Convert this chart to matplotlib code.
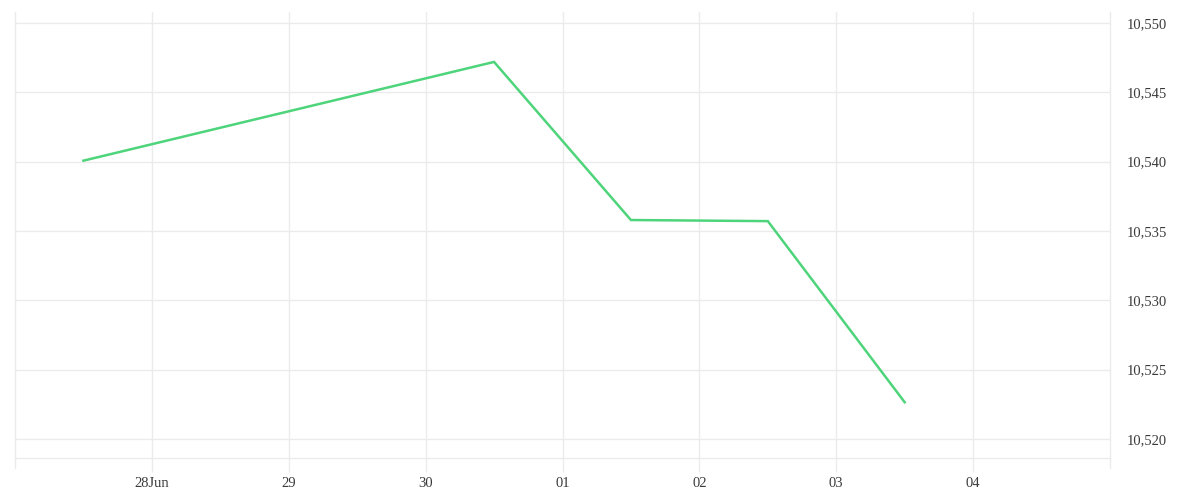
import numpy as np
import pandas as pd
import matplotlib
matplotlib.use('Agg')
import matplotlib.pyplot as plt
import matplotlib.dates as mdates
from matplotlib.ticker import FuncFormatter

# data
dates = pd.to_datetime(['2024-06-27 12:00', '2024-06-30 12:00', '2024-07-01 12:00',
                        '2024-07-02 12:00', '2024-07-03 12:00'])
values = [10540.07, 10547.19, 10535.79, 10535.71, 10522.65]

tick_dates = pd.to_datetime(['2024-06-28', '2024-06-29', '2024-06-30', '2024-07-01',
                             '2024-07-02', '2024-07-03', '2024-07-04'])
tick_labels = ['28Jun', '29', '30', '01', '02', '03', '04']
y_ticks = [10520, 10525, 10530, 10535, 10540, 10545, 10550]

grid_c = '#ebebeb'
text_c = '#3a3a3a'
plt.rcParams['font.family'] = ['Liberation Serif', 'DejaVu Serif']

fig = plt.figure(figsize=(12, 5), dpi=100)
ax = fig.add_axes([15 / 1200, 42 / 500, (1110 - 15) / 1200, (458 - 12) / 500])

ax.plot(dates, values, color='#4ed47a', lw=1.8, solid_joinstyle='miter')

ax.set_xlim(pd.Timestamp('2024-06-27'), pd.Timestamp('2024-07-05'))
ax.set_ylim(10518.63, 10550.79)

ax.set_xticks(tick_dates)
ax.set_xticklabels(tick_labels)
ax.set_yticks(y_ticks)
ax.yaxis.set_major_formatter(FuncFormatter(lambda v, p: '{:,.0f}'.format(v)))
ax.yaxis.tick_right()

ax.grid(True, color=grid_c, lw=1)
ax.set_axisbelow(True)
ax.spines['top'].set_visible(False)
for s in ['left', 'right', 'bottom']:
    ax.spines[s].set_color(grid_c)
    ax.spines[s].set_linewidth(1)

ax.tick_params(axis='x', length=10, color=grid_c, width=1, labelsize=10.5,
               labelcolor=text_c, pad=4)
ax.tick_params(axis='y', length=0, labelsize=10.5, labelcolor=text_c, pad=12)

# spines continue below the plot like the ticks
for xv in ax.get_xlim():
    ax.plot([xv, xv], [0, -10 / 446], transform=ax.get_xaxis_transform(),
            color=grid_c, lw=1, clip_on=False)

fig.savefig('out.png', dpi=100, facecolor='white')
